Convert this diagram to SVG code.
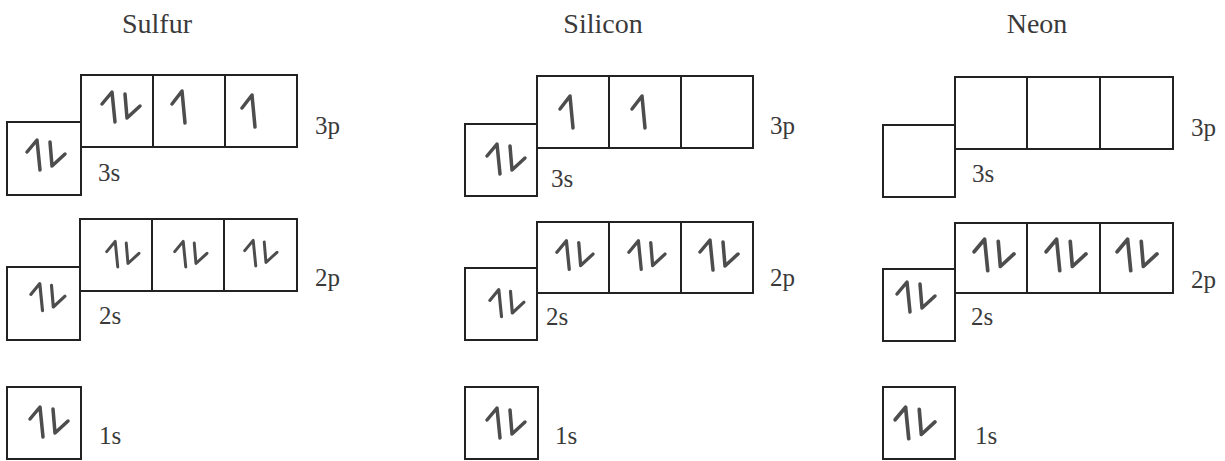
<svg xmlns="http://www.w3.org/2000/svg" xmlns:xlink="http://www.w3.org/1999/xlink" width="1225" height="461" viewBox="0 0 1225 461">
<style>
.box{fill:none;stroke:#222;stroke-width:2}
.title{font-family:"Liberation Serif",serif;font-size:28px;fill:#3a3a3a;text-anchor:middle}
.lbl{font-family:"Liberation Serif",serif;font-size:25px;fill:#3a3a3a}
.e{fill:none;stroke:#4d4d4d;stroke-width:3.5;stroke-linecap:round;stroke-linejoin:round}
</style>
<defs>
<path id="up" class="e" d="M -10 -4 L 0 -17 L 3 15"/>
<g id="pair">
<path class="e" d="M -18 -4 L -8 -16 L -5 14"/>
<path class="e" d="M 5 -14 L 7 10 L 20 -2"/>
</g>
</defs>
<rect width="1225" height="461" fill="#fff"/>
<g id="sulfur">
<text class="title" x="157" y="33">Sulfur</text>
<g id="sulfur-3s"><rect class="box" x="7" y="122" width="74" height="73"/><use xlink:href="#pair" transform="translate(45,156)"/><text class="lbl" x="98" y="181">3s</text></g>
<g id="sulfur-3p"><rect class="box" x="81" y="75" width="72" height="72"/><rect class="box" x="153" y="75" width="72" height="72"/><rect class="box" x="225" y="75" width="72" height="72"/>
<use xlink:href="#pair" transform="translate(120,108)"/><use xlink:href="#up" transform="translate(182,108)"/><use xlink:href="#up" transform="translate(252,112)"/>
<text class="lbl" x="315" y="134">3p</text></g>
<g id="sulfur-2s"><rect class="box" x="7" y="267" width="73" height="73"/><use xlink:href="#pair" transform="translate(47,298) scale(0.9)"/><text class="lbl" x="99" y="324">2s</text></g>
<g id="sulfur-2p"><rect class="box" x="80" y="219" width="72" height="72"/><rect class="box" x="152" y="219" width="72" height="72"/><rect class="box" x="224" y="219" width="73" height="72"/>
<use xlink:href="#pair" transform="translate(122,255) scale(0.85)"/><use xlink:href="#pair" transform="translate(190,255) scale(0.85)"/><use xlink:href="#pair" transform="translate(260,254) scale(0.85)"/>
<text class="lbl" x="315" y="286">2p</text></g>
<g id="sulfur-1s"><rect class="box" x="7" y="387" width="74" height="72"/><use xlink:href="#pair" transform="translate(48,423)"/><text class="lbl" x="99" y="444">1s</text></g>
</g>
<g id="silicon">
<text class="title" x="603" y="33">Silicon</text>
<g id="silicon-3s"><rect class="box" x="465" y="124" width="72" height="72"/><use xlink:href="#pair" transform="translate(505,160)"/><text class="lbl" x="551" y="187">3s</text></g>
<g id="silicon-3p"><rect class="box" x="537" y="76" width="72" height="72"/><rect class="box" x="609" y="76" width="72" height="72"/><rect class="box" x="681" y="76" width="72" height="72"/>
<use xlink:href="#up" transform="translate(570,113)"/><use xlink:href="#up" transform="translate(642,113)"/>
<text class="lbl" x="770" y="134">3p</text></g>
<g id="silicon-2s"><rect class="box" x="465" y="268" width="72" height="72"/><use xlink:href="#pair" transform="translate(506,304) scale(0.9)"/><text class="lbl" x="546" y="325">2s</text></g>
<g id="silicon-2p"><rect class="box" x="537" y="222" width="72" height="71"/><rect class="box" x="609" y="222" width="72" height="71"/><rect class="box" x="681" y="222" width="72" height="71"/>
<use xlink:href="#pair" transform="translate(574,256) scale(0.95)"/><use xlink:href="#pair" transform="translate(646,256) scale(0.95)"/><use xlink:href="#pair" transform="translate(718,256)"/>
<text class="lbl" x="770" y="286">2p</text></g>
<g id="silicon-1s"><rect class="box" x="465" y="387" width="73" height="72"/><use xlink:href="#pair" transform="translate(505,424)"/><text class="lbl" x="555" y="444">1s</text></g>
</g>
<g id="neon">
<text class="title" x="1037" y="33">Neon</text>
<g id="neon-3s"><rect class="box" x="883" y="125" width="72" height="72"/><text class="lbl" x="972" y="182">3s</text></g>
<g id="neon-3p"><rect class="box" x="955" y="77" width="72" height="72"/><rect class="box" x="1027" y="77" width="73" height="72"/><rect class="box" x="1100" y="77" width="73" height="72"/>
<text class="lbl" x="1191" y="136">3p</text></g>
<g id="neon-2s"><rect class="box" x="883" y="269" width="72" height="72"/><use xlink:href="#pair" transform="translate(915,298)"/><text class="lbl" x="971" y="325">2s</text></g>
<g id="neon-2p"><rect class="box" x="955" y="223" width="72" height="70"/><rect class="box" x="1027" y="223" width="73" height="70"/><rect class="box" x="1100" y="223" width="73" height="70"/>
<use xlink:href="#pair" transform="translate(993,256) scale(1.05)"/><use xlink:href="#pair" transform="translate(1065,256) scale(1.05)"/><use xlink:href="#pair" transform="translate(1136,256) scale(1.05)"/>
<text class="lbl" x="1191" y="288">2p</text></g>
<g id="neon-1s"><rect class="box" x="883" y="387" width="72" height="72"/><use xlink:href="#pair" transform="translate(914,424) scale(1.05)"/><text class="lbl" x="975" y="444">1s</text></g>
</g>
</svg>
